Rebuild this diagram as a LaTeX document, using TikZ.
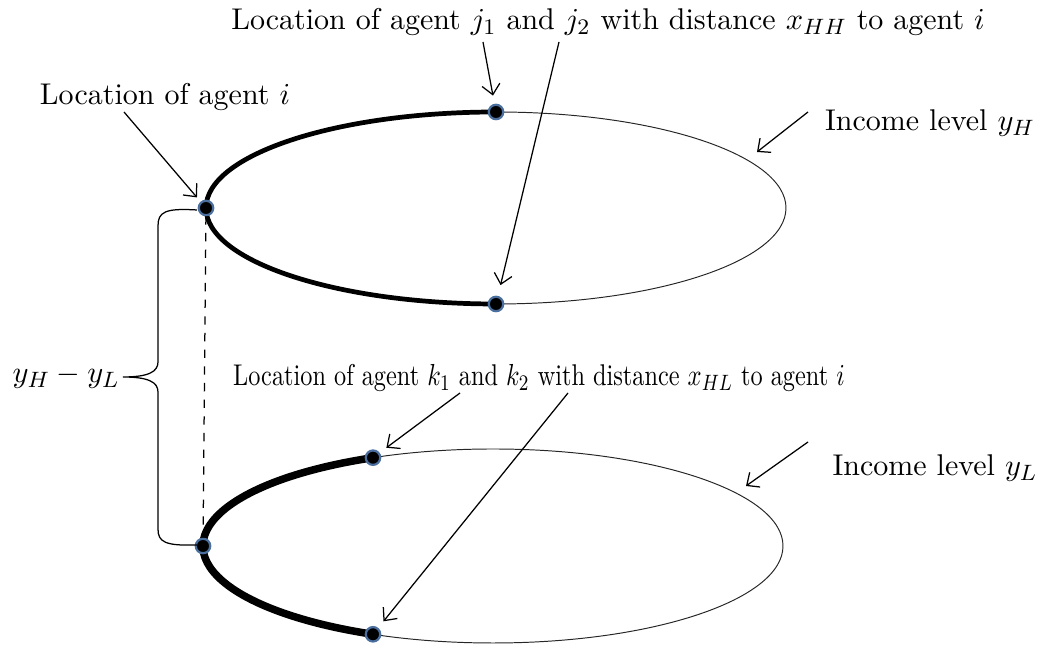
\documentclass[tikz,border=0pt]{standalone}
\usepackage{amsmath}
\usepackage{tikz}
\usetikzlibrary{positioning,arrows.meta,calc}
\definecolor{ringblue}{HTML}{4A6E9E}
\tikzset{
  agent/.style={circle, fill=black, draw=ringblue, line width=0.8pt, minimum size=5.2pt, inner sep=0pt},
  ring/.style={line width=0.35pt, draw=black!85},
  near/.style={line width=1.7pt},
  nearer/.style={line width=2.7pt},
  pointer/.style={-{Straight Barb[length=3.6pt,width=6.5pt]}, line width=0.45pt},
  lab/.style={inner sep=1pt, font=\fontsize{10.8pt}{13pt}\selectfont},
}

\begin{document}
\begin{tikzpicture}[x=0.36pt, y=-0.36pt]
  \useasboundingbox (0,0) rectangle (1043,651);
  % upper circle (income y_H)
  \draw[ring] (496,208) ellipse [x radius=290, y radius=96];
  \draw[near] (496,112) arc[start angle=270, end angle=90, x radius=290, y radius=96];
  % lower circle (income y_L)
  \draw[ring] (493,546) ellipse [x radius=290, y radius=97];
  \draw[nearer] (373,457.7) arc[start angle=245.56, end angle=114.44, x radius=290, y radius=97];

  \node[agent] (iH) at (206,208) {};
  \node[agent] (j1) at (496,112) {};
  \node[agent] (j2) at (496,304) {};
  \node[agent] (iL) at (203,546) {};
  \node[agent] (k1) at (373,457.7) {};
  \node[agent] (k2) at (373,634.3) {};
  \draw[dashed, line width=0.45pt] (iH) -- (iL);

  % brace for the income gap
  \coordinate (btop) at (197,210);
  \coordinate (bbot) at (197,545);
  \coordinate (btip) at (123,377);
  \draw[line width=0.45pt] (btop) .. controls (165,208) and (158,212) .. (158,226) -- (158,362)
    .. controls (158,372) and (148,377) .. (btip)
    .. controls (148,377) and (158,382) .. (158,392) -- (158,529)
    .. controls (158,542) and (165,546) .. (bbot);
  \node[lab, anchor=east] (gap) at (btip) {$y_H - y_L$};

  % labels
  \node[lab] (labi) at (165,97) {Location of agent $i$};
  \node[lab] (labj) at (608,22) {Location of agent $j_1$ and $j_2$ with distance $x_{HH}$ to agent $i$};
  \node[lab, xscale=0.81, transform shape] (labk) at (539,378) {Location of agent $k_1$ and $k_2$ with distance $x_{HL}$ to agent $i$};
  \node[lab] (labH) at (930,123) {Income level $y_H$};
  \node[lab] (labL) at (935,468) {Income level $y_L$};

  \coordinate (ai) at (124,112);
  \coordinate (aj1) at (483,42);
  \coordinate (aj2) at (559,42);
  \coordinate (ak1) at (460,393);
  \coordinate (ak2) at (568,393);
  \coordinate (aH) at (808,112);
  \coordinate (aL) at (808,442);
  \coordinate (eH) at (757,152);
  \coordinate (eL) at (746,486);
  \draw[pointer, shorten >=2pt] (ai) -- (iH);
  \draw[pointer, shorten >=3pt] (aj1) -- (j1);
  \draw[pointer, shorten >=4pt] (aj2) -- (j2);
  \draw[pointer, shorten >=3pt] (ak1) -- (k1);
  \draw[pointer, shorten >=3pt] (ak2) -- (k2);
  \draw[pointer] (aH) -- (eH);
  \draw[pointer] (aL) -- (eL);
\end{tikzpicture}
\end{document}
